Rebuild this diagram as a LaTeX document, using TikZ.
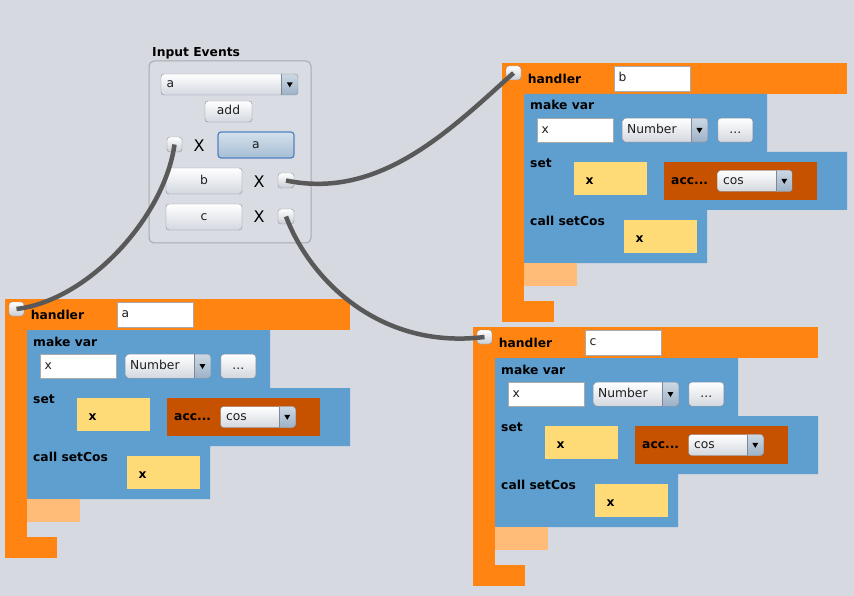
\documentclass[tikz,border=0pt]{standalone}
\usepackage{fontspec}
\setmainfont{DejaVu Sans}
\definecolor{bgC}{HTML}{D6D9E0}
\definecolor{orC}{HTML}{FF8412}
\definecolor{blC}{HTML}{5F9FD0}
\definecolor{dkC}{HTML}{C65200}
\definecolor{ylC}{HTML}{FFDB77}
\definecolor{loC}{HTML}{FFBB78}
\definecolor{wireC}{HTML}{595959}
\definecolor{fldB}{HTML}{A9A9A9}
\definecolor{btnB}{HTML}{7F8794}
\definecolor{btnBot}{HTML}{D3D8DF}
\definecolor{selB}{HTML}{4F82C0}
\definecolor{selTop}{HTML}{D5E1EC}
\definecolor{selBot}{HTML}{A6BDD3}
\definecolor{arTop}{HTML}{CDD8E4}
\definecolor{arBot}{HTML}{9DB1C6}
\definecolor{hdB}{HTML}{8A9099}
\definecolor{hdBot}{HTML}{C9CDD4}
\definecolor{pnB}{HTML}{A6A9B0}
\definecolor{pnF}{HTML}{D9DCE3}
\definecolor{btxt}{HTML}{1E1E1E}
\begin{document}
\begin{tikzpicture}[x=1pt,y=-1pt,
  lbl/.style={inner sep=0pt, anchor=base west, font=\fontsize{12.3}{14}\selectfont\bfseries, text=black},
  wtxt/.style={font=\fontsize{12.3}{14}\selectfont, text height=9pt, text depth=2.5pt, text=btxt},
  fieldbox/.style={wtxt, rectangle, draw=fldB, fill=white, inner xsep=4.5pt, inner ysep=0pt, align=left, text width=67pt},
  btnbox/.style={wtxt, rectangle, rounded corners=3pt, draw=btnB, top color=white, bottom color=btnBot, inner sep=0pt},
  selbtn/.style={btnbox, draw=selB, top color=selTop, bottom color=selBot, line width=1.2pt},
  combobox/.style={wtxt, rectangle, rounded corners=3pt, draw=btnB, top color=white, bottom color=btnBot,
    inner ysep=0pt, align=left,
    path picture={
      \shade[sharp corners, top color=arTop, bottom color=arBot]
        ([xshift=-16.5pt]path picture bounding box.north east) rectangle (path picture bounding box.south east);
      \draw[sharp corners, btnB] ([xshift=-16.5pt]path picture bounding box.north east) -- ([xshift=-16.5pt]path picture bounding box.south east);
      \fill[sharp corners, black] ([xshift=-8.25pt]path picture bounding box.east) ++(-3pt,2.2pt) -- ++(6pt,0pt) -- ++(-3pt,-5pt) -- cycle;
    }},
  handle/.style={rectangle, rounded corners=3pt, draw=hdB, top color=white, bottom color=hdBot,
    minimum width=15pt, minimum height=14pt, inner sep=0pt},
  slot/.style={rectangle, fill=ylC, inner sep=0pt},
  wire/.style={draw=wireC, line width=4.5pt},
  xmark/.style={inner sep=0pt, font=\fontsize{16}{16}\selectfont, text=black},
]
\useasboundingbox (0,0) rectangle (854,596);
\fill[bgC] (0,0) rectangle (854,596);

% ---------- Input Events panel ----------
\node[lbl] (ptitle) at (152,56.7) {Input Events};
\node[draw=pnB, fill=pnF, rounded corners=5pt, minimum width=162pt, minimum height=182pt, line width=1pt, inner sep=0pt] (panel) at (230,152) {};
\node[combobox, minimum width=137pt, minimum height=21pt, inner xsep=5.5pt, text width=126pt] (evcombo) at (229.5,84.5) {a};
\node[btnbox, minimum width=47pt, minimum height=21pt] (addbtn) at (228.5,111.5) {add};
\node[handle, minimum width=15pt, minimum height=15pt] (h1) at (174.5,144.5) {};
\node[xmark] (x1) at (199,146) {X};
\node[selbtn, minimum width=76pt, minimum height=26pt] (ba) at (256,145) {a};
\node[btnbox, minimum width=76pt, minimum height=26pt] (bb) at (204,181) {b};
\node[xmark] (x2) at (259,182) {X};
\node[handle, minimum width=16pt, minimum height=15pt] (h2) at (286,180.5) {};
\node[btnbox, minimum width=76pt, minimum height=26pt] (bc) at (204,217) {c};
\node[xmark] (x3) at (259,217) {X};
\node[handle, minimum width=16pt, minimum height=15pt] (h3) at (286,216.5) {};

% ---------- handler blocks ----------
\foreach \n/\ox/\oy/\lab in {A/5/299/a, B/502/63/b, C/473/327/c}{
  \begin{scope}[shift={(\ox,\oy)}]
    \fill[orC] (0,0) rectangle (345,31);
    \fill[orC] (0,31) rectangle (22,259);
    \fill[orC] (22,238) rectangle (52,259);
    \fill[blC] (22,31) -- (265,31) -- (265,89) -- (345,89) -- (345,147) -- (205,147) -- (205,200) -- (22,200) -- cycle;
    \fill[loC] (22,200) rectangle (75,223);
    \node[handle] (\n-hd) at (11.5,10) {};
    \node[lbl] (\n-title) at (25.7,20.3) {handler};
    \node[fieldbox, minimum width=76pt, minimum height=25pt] (\n-name) at (150,15.5) {\lab};
    \node[lbl] (\n-mk) at (28,47) {make var};
    \node[fieldbox, minimum width=76pt, minimum height=24pt] (\n-var) at (73,67.2) {x};
    \node[combobox, minimum width=85pt, minimum height=24pt, inner xsep=4.5pt, text width=76pt] (\n-type) at (163.2,67.2) {Number};
    \node[btnbox, minimum width=35pt, minimum height=24pt] (\n-more) at (233.3,67.2) {...};
    \node[lbl] (\n-set) at (28,104.7) {set};
    \node[slot, minimum width=73pt, minimum height=33pt] (\n-s1) at (108.5,115.5) {};
    \node[lbl] (\n-x1) at (83.3,121.7) {x};
    \node[rectangle, fill=dkC, inner sep=0pt, minimum width=153pt, minimum height=38pt] (\n-acc) at (238.5,118) {};
    \node[lbl] (\n-acct) at (169,121.7) {acc...};
    \node[combobox, minimum width=75pt, minimum height=21pt, inner xsep=5.5pt, text width=64pt] (\n-cos) at (253,118) {cos};
    \node[lbl] (\n-call) at (28,162.7) {call setCos};
    \node[slot, minimum width=73pt, minimum height=33pt] (\n-s2) at (158.5,173.5) {};
    \node[lbl] (\n-x2) at (133.3,179.3) {x};
  \end{scope}
}

% ---------- wires ----------
\draw[wire] (h1.center) .. controls (165,215) and (90,300) .. (A-hd.center);
\draw[wire] (h2.center) .. controls (380,200) and (450,130) .. (B-hd.center);
\draw[wire] (h3.center) .. controls (310,280) and (380,350) .. (C-hd.center);
\end{tikzpicture}
\end{document}
